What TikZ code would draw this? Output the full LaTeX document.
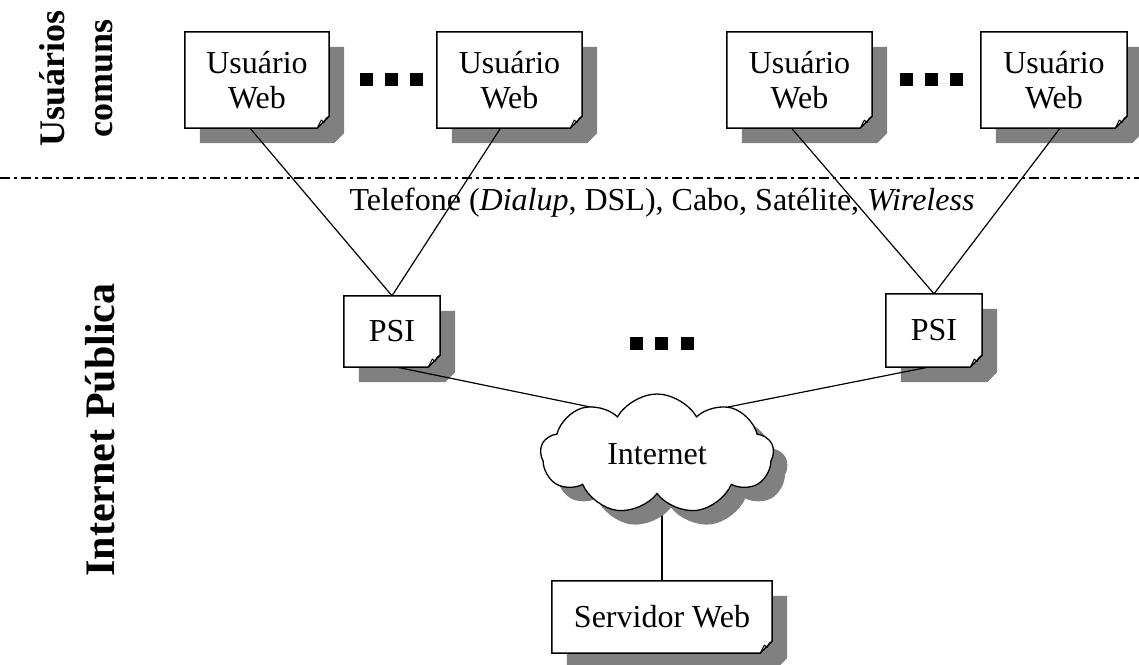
\documentclass[tikz,border=0pt]{standalone}
\usepackage{fontspec}
\setmainfont{Liberation Serif}
\usetikzlibrary{shapes.symbols,calc}
\pgfdeclarelayer{shadow}
\pgfdeclarelayer{wires}
\pgfdeclarelayer{sheets}
\pgfsetlayers{shadow,wires,sheets,main}
\definecolor{shadowgray}{RGB}{128,128,128}

\tikzset{
  txt/.style={font=\fontsize{32}{35}\selectfont, align=center, inner sep=0pt},
  paper/.style 2 args={txt, minimum width=#1, minimum height=#2},
  side/.style={font=\fontsize{#1}{48}\selectfont\bfseries, align=center, inner sep=0pt, rotate=90},
  wire/.style={line width=1.2pt},
  dotmark/.style={fill=black, minimum size=13pt, inner sep=0pt},
  netcloud/.style={cloud, cloud puffs=9, cloud puff arc=120, aspect=2,
    minimum width=233pt, minimum height=120pt, txt},
}

% sheet of paper with drop shadow and curled lower-right corner
\newcommand\drawsheet[1]{%
  \begin{pgfonlayer}{shadow}
    \fill[shadowgray] ($(#1.north west)+(15,15)$) -- ($(#1.north east)+(15,15)$)
      -- ($(#1.south east)+(15,5)$) -- ($(#1.south east)+(5,15)$)
      -- ($(#1.south west)+(15,15)$) -- cycle;
  \end{pgfonlayer}
  \begin{pgfonlayer}{sheets}
    \filldraw[fill=white, line width=1.5pt] (#1.north west) -- (#1.north east)
      -- ($(#1.south east)+(0,-12)$) -- ($(#1.south east)+(-12,0)$)
      -- (#1.south west) -- cycle;
    \draw[line width=1pt] ($(#1.south east)+(-12,0)$) -- ($(#1.south east)+(-8,-8)$)
      -- ($(#1.south east)+(-5,-6)$) -- ($(#1.south east)+(-3,-10)$) -- ($(#1.south east)+(0,-12)$);
  \end{pgfonlayer}
}

\begin{document}
\begin{tikzpicture}[x=1pt, y=-1pt]
\useasboundingbox (0,0) rectangle (1139,664);

% side labels
\node[side=36] (lblU) at (76,78) {Usuários\\comuns};
\node[side=42] (lblI) at (100,430) {Internet Pública};

% user and provider sheets
\node[paper={144pt}{96pt}] (u1) at (257,80) {Usuário\\Web};
\node[paper={145pt}{96pt}] (u2) at (509.5,80) {Usuário\\Web};
\node[paper={145pt}{96pt}] (u3) at (799.5,80) {Usuário\\Web};
\node[paper={146pt}{96pt}] (u4) at (1054,80) {Usuário\\Web};
\node[paper={96pt}{71pt}] (p1) at (392,331.5) {PSI};
\node[paper={96pt}{73pt}] (p2) at (934,330.5) {PSI};
\node[paper={220pt}{72pt}] (srv) at (662,617) {Servidor Web};
\foreach \n in {u1,u2,u3,u4,p1,p2,srv} {\drawsheet{\n}}

% ellipsis marks
\foreach \x [count=\i] in {366.5,391.5,416.5} {\node[dotmark] (da\i) at (\x,79.5) {};}
\foreach \x [count=\i] in {906.5,931.5,956.5} {\node[dotmark] (db\i) at (\x,79.5) {};}
\foreach \x [count=\i] in {636.5,661.5,687.5} {\node[dotmark] (dc\i) at (\x,343.5) {};}

% access media
\node[txt] (media) at (662,203) {Telefone (\textit{Dialup}, DSL), Cabo, Satélite, \textit{Wireless}};

% boundary between user side and public Internet
\coordinate (sepL) at (0,178);
\coordinate (sepR) at (1139,178);
\draw[line width=1.2pt, dash pattern=on 10pt off 4pt on 3pt off 4pt] (sepL) -- (sepR);

% the Internet cloud
\begin{pgfonlayer}{sheets}
  \node[netcloud, fill=shadowgray] (netshadow) at (671,468) {\phantom{Internet}};
\end{pgfonlayer}
\node[netcloud, draw, fill=white, line width=1.3pt] (net) at (657,454) {Internet};
\coordinate (netL) at (600,409);
\coordinate (netR) at (728,407);

% connections
\begin{pgfonlayer}{wires}
  \draw[wire] ([xshift=-7pt]u1.south) -- (p1.north);
  \draw[wire] ([xshift=-9pt]u2.south) -- (p1.north);
  \draw[wire] ([xshift=-8pt]u3.south) -- (p2.north);
  \draw[wire] ([xshift=6pt]u4.south) -- (p2.north);
  \draw[wire] ([xshift=5pt]p1.south) -- (netL);
  \draw[wire] ([xshift=-6pt]p2.south) -- (netR);
  \draw[wire] (srv.north) -- (srv.north |- net.center);
\end{pgfonlayer}
\end{tikzpicture}
\end{document}
